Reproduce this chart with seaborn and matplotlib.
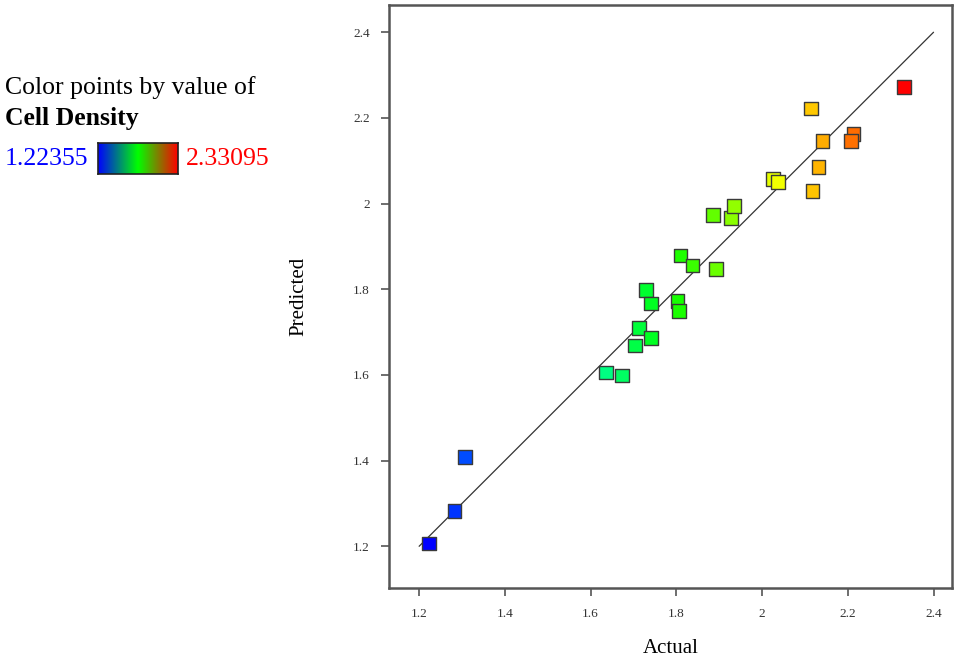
import matplotlib
matplotlib.use('Agg')
import matplotlib.pyplot as plt
from matplotlib.colors import LinearSegmentedColormap
import numpy as np
import pandas as pd
import seaborn as sns

# actual vs predicted cell density
actual = [1.22355, 1.282, 1.307, 1.636, 1.673, 1.703, 1.713, 1.741, 1.729,
          1.741, 1.803, 1.806, 1.810, 1.838, 1.892, 1.885, 1.927, 1.934,
          2.025, 2.037, 2.114, 2.141, 2.132, 2.118, 2.213, 2.207, 2.33095]
predicted = [1.207, 1.282, 1.408, 1.606, 1.599, 1.669, 1.709, 1.686, 1.798,
             1.767, 1.772, 1.749, 1.879, 1.856, 1.847, 1.973, 1.966, 1.994,
             2.057, 2.050, 2.222, 2.146, 2.085, 2.029, 2.162, 2.146, 2.272]
cd_min, cd_max = 1.22355, 2.33095
ticks = [1.2, 1.4, 1.6, 1.8, 2.0, 2.2, 2.4]
tick_labels = ['1.2', '1.4', '1.6', '1.8', '2', '2.2', '2.4']


def main():
    sns.set_style('white')
    plt.rcParams['font.family'] = ['Liberation Serif', 'DejaVu Serif']
    plt.rcParams['text.color'] = 'black'
    plt.rcParams['axes.labelcolor'] = 'black'

    df = pd.DataFrame({'Actual': actual, 'Predicted': predicted})

    # point colours: blue -> cyan -> green -> yellow -> red
    pt_cmap = LinearSegmentedColormap.from_list(
        'pts', [(0.0, '#0000ff'), (0.25, '#00ffff'), (0.5, '#00ff00'),
                (0.75, '#ffff00'), (1.0, '#ff0000')])
    # legend bar: blue -> green -> red
    bar_cmap = LinearSegmentedColormap.from_list('bar', ['#0000ff', '#00ff00', '#ff0000'])

    fig = plt.figure(figsize=(9.68, 6.58), dpi=100)
    ax = fig.add_axes([0.402, 0.106, 0.581, 0.886])

    # reference line
    ax.plot([1.2, 2.4], [1.2, 2.4], color='#333333', lw=0.9, zorder=1)

    sns.scatterplot(data=df, x='Actual', y='Predicted', hue='Actual',
                    palette=pt_cmap, hue_norm=(cd_min, cd_max), marker='s',
                    s=95, edgecolor='#3a3a3a', linewidth=1.0, legend=False,
                    ax=ax, zorder=3)

    ax.set_xlim(1.130, 2.442)
    ax.set_ylim(1.102, 2.463)
    ax.set_xticks(ticks)
    ax.set_xticklabels(tick_labels)
    ax.set_yticks(ticks)
    ax.set_yticklabels(tick_labels)
    ax.tick_params(axis='both', which='major', direction='out', length=6,
                   width=1.2, color='#555555', labelsize=9.5,
                   labelcolor='#333333', bottom=True, left=True, pad=8)
    for sp in ax.spines.values():
        sp.set_color('#555555')
        sp.set_linewidth(1.8)

    ax.set_xlabel('Actual', fontsize=15, labelpad=14)
    ax.set_ylabel('Predicted', fontsize=15, labelpad=32)

    # colour legend on the left
    fs = 18.5
    fig.text(0.005, 1 - 88 / 658, 'Color points by value of', fontsize=fs,
             va='center', ha='left')
    fig.text(0.005, 1 - 119 / 658, 'Cell Density', fontsize=fs,
             fontweight='bold', va='center', ha='left')
    fig.text(0.005, 1 - 159 / 658, '1.22355', fontsize=fs, color='#0000ff',
             va='center', ha='left')
    fig.text(186 / 968, 1 - 159 / 658, '2.33095', fontsize=fs,
             color='#ff0000', va='center', ha='left')
    cax = fig.add_axes([98 / 968, 1 - 174 / 658, 80 / 968, 31 / 658])
    grad = np.linspace(0, 1, 256).reshape(1, -1)
    cax.imshow(grad, aspect='auto', cmap=bar_cmap)
    cax.set_xticks([])
    cax.set_yticks([])
    for sp in cax.spines.values():
        sp.set_color('#222222')
        sp.set_linewidth(1.2)

    fig.savefig('out.png', dpi=100)


if __name__ == '__main__':
    main()
